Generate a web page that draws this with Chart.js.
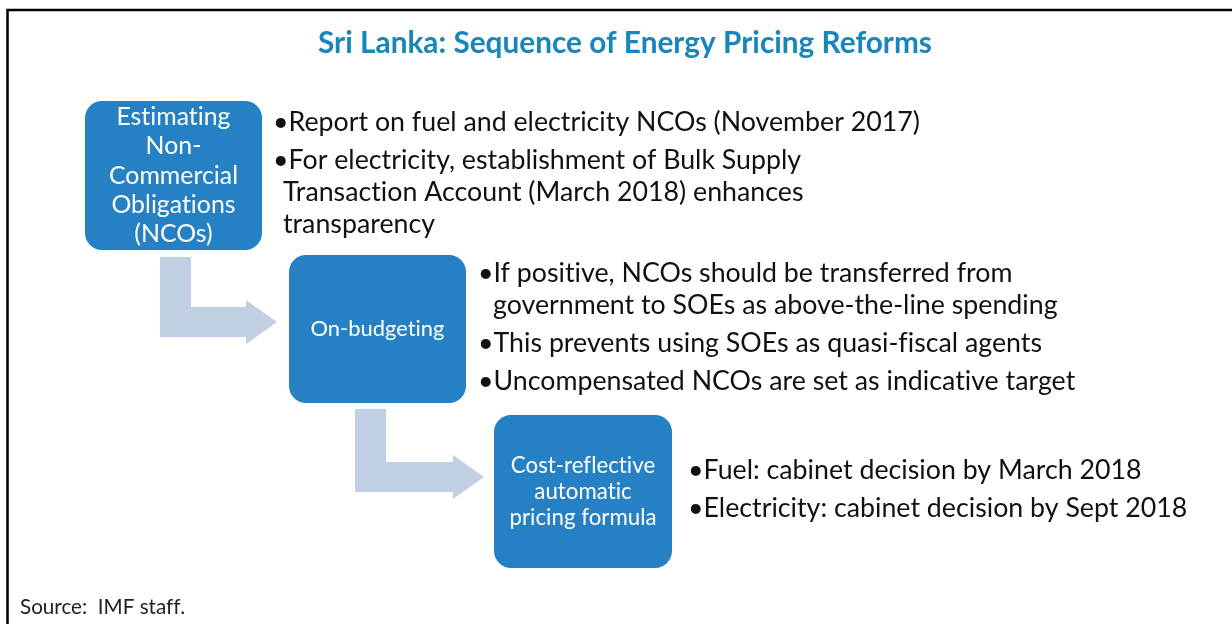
<!DOCTYPE html>
<html>
<head>
<meta charset="utf-8">
<script src="https://cdn.jsdelivr.net/npm/chart.js@4/dist/chart.umd.min.js"></script>
<style>
  body { margin: 0; background: #fff; }
  #wrap { width: 1232px; height: 624px; position: relative; }
</style>
</head>
<body>
<div id="wrap"><canvas id="flow"></canvas></div>
<script>
// diagram content
const titleText = 'Sri Lanka: Sequence of Energy Pricing Reforms';
const sourceText = 'Source:  IMF staff.';

const stepLabels = [
    ['Estimating', 'Non-', 'Commercial', 'Obligations', '(NCOs)'],
    ['On-budgeting'],
    ['Cost-reflective', 'automatic', 'pricing formula']
];

const stepNotes = [
    [
        ['Report on fuel and electricity NCOs (November 2017)'],
        ['For electricity, establishment of Bulk Supply', 'Transaction Account (March 2018) enhances', 'transparency']
    ],
    [
        ['If positive, NCOs should be transferred from', 'government to SOEs as above-the-line spending'],
        ['This prevents using SOEs as quasi-fiscal agents'],
        ['Uncompensated NCOs are set as indicative target']
    ],
    [
        ['Fuel: cabinet decision by March 2018'],
        ['Electricity: cabinet decision by Sept 2018']
    ]
];

// layout (page units, mapped through the chart's scales)
const boxes = [
    { x: 85, y: 101, w: 177, h: 149, lineH: 29.3, fit: 'Commercial', fitW: 129 },
    { x: 289, y: 255, w: 177, h: 148, lineH: 26, fit: 'On-budgeting', fitW: 134 },
    { x: 494, y: 415, w: 178, h: 153, lineH: 26, fit: 'pricing formula', fitW: 147 }
];
const notePos = [
    { x: 273, y: 122, indent: 10 },
    { x: 478, y: 273, indent: 15 },
    { x: 688, y: 470, indent: 12 }
];
const arrows = [
    { vx: 160, w: 31, top: 257, barTop: 307, barBot: 337, headX: 246, headTop: 300, headBot: 344, tip: 277 },
    { vx: 355, w: 31, top: 409, barTop: 462, barBot: 492, headX: 453, headTop: 455, headBot: 499, tip: 484 }
];

const FONT = 'Lato, "Open Sans", sans-serif';
const boxColor = '#2581c3';
const arrowColor = '#c0cfe4';
const titleColor = '#1786bb';

function fitSize(ctx, text, target, weight) {
    ctx.font = `${weight} 100px ${FONT}`;
    return 100 * target / ctx.measureText(text).width;
}

function roundRect(ctx, x, y, w, h, r) {
    ctx.beginPath();
    ctx.moveTo(x + r, y);
    ctx.arcTo(x + w, y, x + w, y + h, r);
    ctx.arcTo(x + w, y + h, x, y + h, r);
    ctx.arcTo(x, y + h, x, y, r);
    ctx.arcTo(x, y, x + w, y, r);
    ctx.closePath();
}

const diagram = {
    id: 'diagram',
    afterDraw(chart) {
        const ctx = chart.ctx;
        const sx = v => chart.scales.x.getPixelForValue(v);
        const sy = v => chart.scales.y.getPixelForValue(v);
        ctx.save();
        // tiny spacing keeps Lato from using its "ti"/"fi" ligatures
        if ('letterSpacing' in ctx) ctx.letterSpacing = '0.01px';

        // frame
        ctx.strokeStyle = '#000';
        ctx.lineWidth = 2.5;
        ctx.beginPath();
        ctx.moveTo(sx(7.5), sy(624));
        ctx.lineTo(sx(7.5), sy(10));
        ctx.lineTo(sx(1232), sy(10));
        ctx.stroke();

        // title
        const ts = fitSize(ctx, titleText, 614, 'bold');
        ctx.font = `bold ${ts}px ${FONT}`;
        ctx.fillStyle = titleColor;
        ctx.textAlign = 'center';
        ctx.textBaseline = 'middle';
        ctx.fillText(titleText, sx(625), sy(43));

        // arrows
        ctx.fillStyle = arrowColor;
        arrows.forEach(a => {
            const mid = (a.headTop + a.headBot) / 2;
            ctx.beginPath();
            ctx.moveTo(sx(a.vx), sy(a.top));
            ctx.lineTo(sx(a.vx + a.w), sy(a.top));
            ctx.lineTo(sx(a.vx + a.w), sy(a.barTop));
            ctx.lineTo(sx(a.headX), sy(a.barTop));
            ctx.lineTo(sx(a.headX), sy(a.headTop));
            ctx.lineTo(sx(a.tip), sy(mid));
            ctx.lineTo(sx(a.headX), sy(a.headBot));
            ctx.lineTo(sx(a.headX), sy(a.barBot));
            ctx.lineTo(sx(a.vx), sy(a.barBot));
            ctx.closePath();
            ctx.fill();
        });

        // step boxes
        stepLabels.forEach((lines, i) => {
            const b = boxes[i];
            const x0 = sx(b.x), y0 = sy(b.y);
            const w = sx(b.x + b.w) - x0, h = sy(b.y + b.h) - y0;
            ctx.fillStyle = boxColor;
            roundRect(ctx, x0, y0, w, h, 17);
            ctx.fill();
            const fs = fitSize(ctx, b.fit, b.fitW, 'normal');
            ctx.font = `${fs}px ${FONT}`;
            ctx.fillStyle = '#fff';
            ctx.textAlign = 'center';
            const cy = b.y + b.h / 2;
            lines.forEach((t, k) => {
                const ly = cy + (k - (lines.length - 1) / 2) * b.lineH;
                ctx.fillText(t, sx(b.x + b.w / 2), sy(ly));
            });
        });

        // bullet notes
        const bs = fitSize(ctx, '\u2022' + stepNotes[0][0][0], 647, 'normal');
        ctx.font = `${bs}px ${FONT}`;
        ctx.fillStyle = '#111';
        ctx.textAlign = 'left';
        stepNotes.forEach((group, i) => {
            const p = notePos[i];
            let y = p.y;
            group.forEach((item, j) => {
                if (j > 0) y += 6;
                item.forEach((t, k) => {
                    if (k === 0) ctx.fillText('\u2022' + t, sx(p.x), sy(y));
                    else ctx.fillText(t, sx(p.x + p.indent), sy(y));
                    y += 32;
                });
            });
        });

        // source
        const ss = fitSize(ctx, sourceText, 165, 'normal');
        ctx.font = `${ss}px ${FONT}`;
        ctx.fillStyle = '#222';
        ctx.fillText(sourceText, sx(20), sy(607));

        ctx.restore();
    }
};

new Chart(document.getElementById('flow'), {
    type: 'scatter',
    data: { datasets: [] },
    options: {
        responsive: true,
        maintainAspectRatio: false,
        animation: false,
        layout: { padding: 0 },
        plugins: { legend: { display: false }, tooltip: { enabled: false } },
        scales: {
            x: { type: 'linear', min: 0, max: 1232, display: false },
            y: { type: 'linear', min: 0, max: 624, reverse: true, display: false }
        }
    },
    plugins: [diagram]
});
</script>
</body>
</html>
